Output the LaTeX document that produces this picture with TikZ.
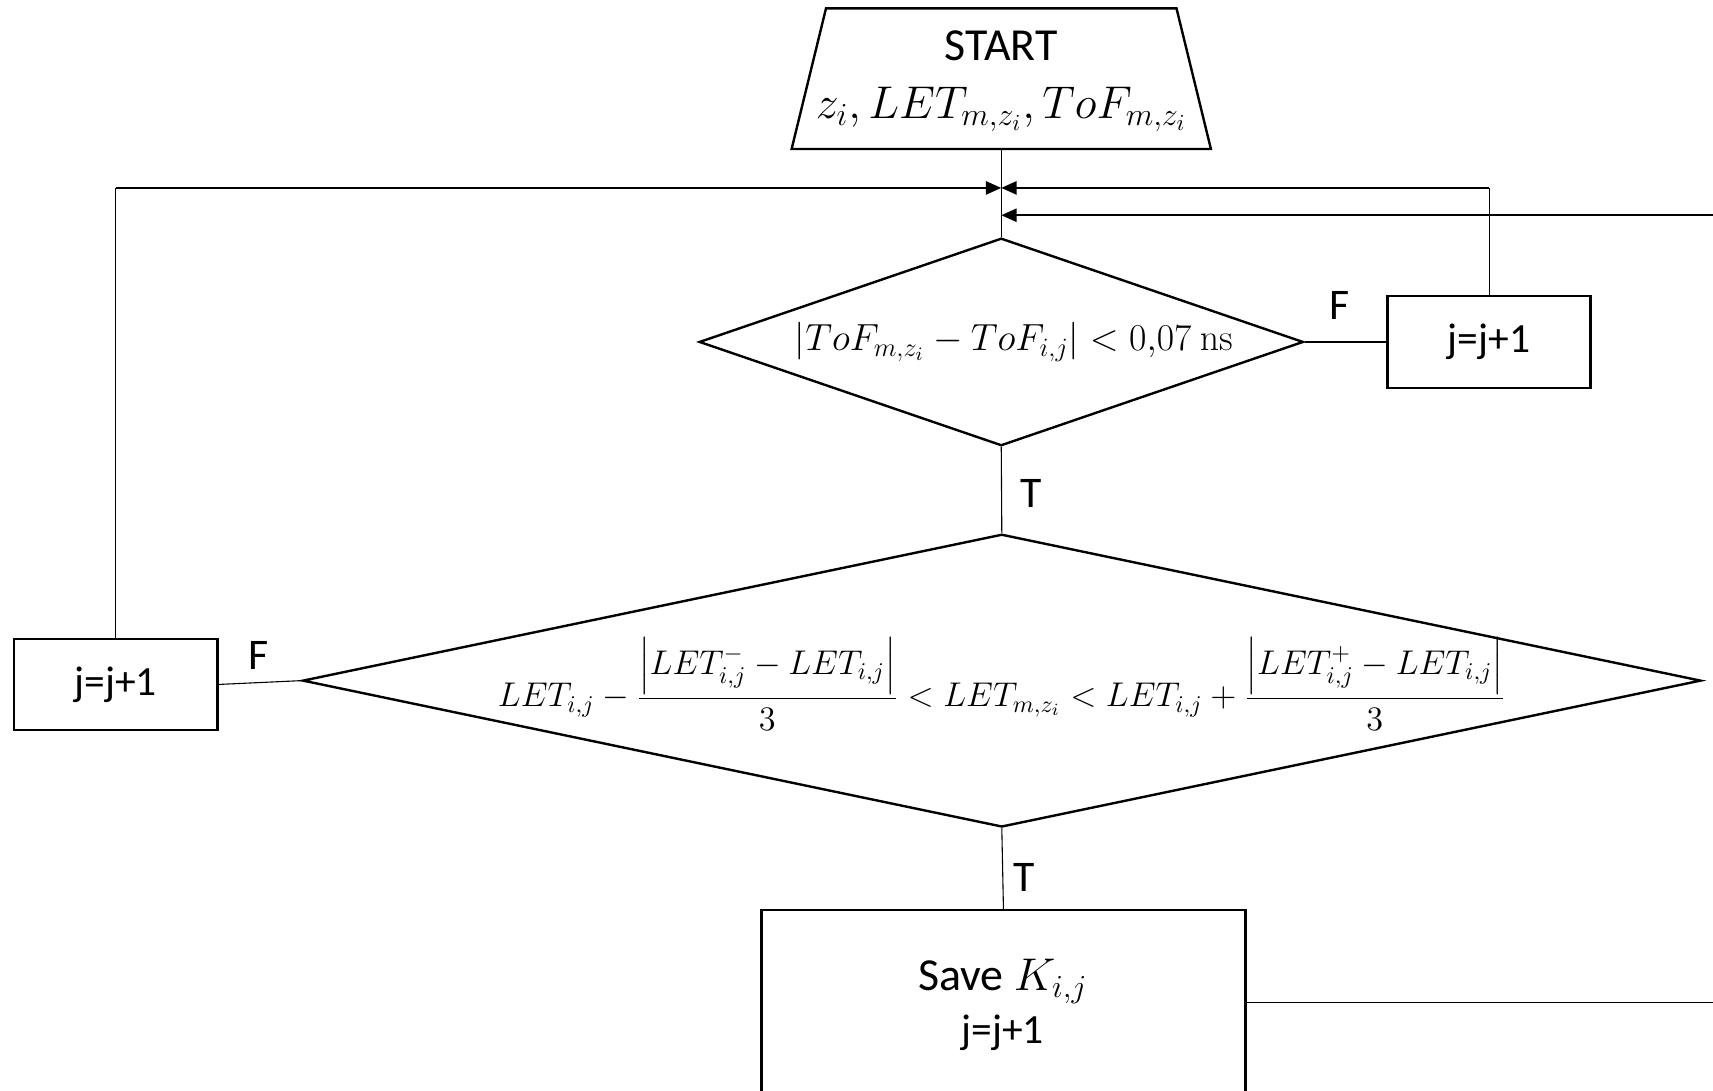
\RequirePackage{fix-cm}
\documentclass[tikz,border=0pt]{standalone}
\usepackage{amsmath}
\usepackage[no-math]{fontspec}
\setmainfont{Carlito}
\usetikzlibrary{shapes.geometric,arrows.meta}
\begin{document}
\begin{tikzpicture}[x=0.5pt,y=-0.5pt,
  shp/.style={draw, line width=1.1pt, inner sep=0pt},
  procbox/.style={shp, rectangle, minimum width=93pt, minimum height=42pt, font=\fontsize{19}{22}\selectfont},
  dia/.style={shp, diamond},
  link/.style={line width=0.5pt},
  back/.style={line width=1pt, -{Triangle[length=7pt,width=6pt]}},
  lbl/.style={font=\fontsize{20}{24}\selectfont, inner sep=0pt},
  mathtxt/.style={inner sep=0pt, font=\fontsize{21}{24}\selectfont}]
\clip (0,0) rectangle (1568,998);
% start (trapezium)
\node[inner sep=0pt, minimum width=191.5pt, minimum height=64pt] (start) at (916.5,72) {};
\draw[line width=1.1pt] (start.south west) -- (start.south east)
  -- ([xshift=-15.75pt]start.north east) -- ([xshift=15.75pt]start.north west) -- cycle;
\node[inner sep=0pt, font=\fontsize{21}{24}\selectfont] (st1) at (916.5,42) {START};
\node[mathtxt] (st2) at (916.5,100) {$z_i, LET_{m,z_i}, ToF_{m,z_i}$};

\node[dia, minimum width=276.5pt, minimum height=95pt] (d1) at (916.5,313) {};
\node[mathtxt, font=\fontsize{17.3}{20}\selectfont] (t1) at (928,313) {$\left|ToF_{m,z_i}-ToF_{i,j}\right| < 0{,}07\ \mathrm{ns}$};

\node[procbox] (r1) at (1363,313) {j=j+1};

\node[dia, minimum width=640pt, minimum height=134pt] (d2) at (917,623) {};
\node[mathtxt, font=\fontsize{15.7}{19}\selectfont] (t2) at (917,626) {$LET_{i,j}-\dfrac{\left|LET^-_{i,j}-LET_{i,j}\right|}{3} < LET_{m,z_i} < LET_{i,j}+\dfrac{\left|LET^+_{i,j}-LET_{i,j}\right|}{3}$};

\node[procbox, minimum height=41.5pt] (l1) at (106,626.5) {j=j+1};

\node[shp, rectangle, minimum width=221.5pt, minimum height=84.5pt] (save) at (918.5,917.5) {};
\node[inner sep=0pt, font=\fontsize{21}{24}\selectfont] (sv1) at (918,898) {Save $K_{i,j}$};
\node[inner sep=0pt, font=\fontsize{19}{22}\selectfont] (sv2) at (918,945) {j=j+1};

% junction points on the main line
\coordinate (ja) at (916.5,172);
\coordinate (jb) at (916.5,197);
\coordinate (offr) at (1580,917.5);

% connectors
\draw[link] (start.south) -- (d1.north);
\draw[link] (d1.east) -- (r1.west);
\draw[link] (d1.south) -- (d2.north);
\draw[link] (d2.west) -- (l1.east);
\draw[link] (d2.south) -- (save.north);

\draw[link] (l1.north) -- (l1.north |- ja);
\draw[back] (l1.north |- ja) -- (ja);
\draw[link] (r1.north) -- (r1.north |- ja);
\draw[back] (r1.north |- ja) -- (ja);
\draw[link] (save.east) -- (offr);
\draw[back] (offr |- jb) -- (jb);

% labels
\node[lbl] (fa) at (1226,280) {F};
\node[lbl] (ta) at (944,452) {T};
\node[lbl] (fb) at (237,600) {F};
\node[lbl] (tb) at (937,803) {T};
\end{tikzpicture}
\end{document}
